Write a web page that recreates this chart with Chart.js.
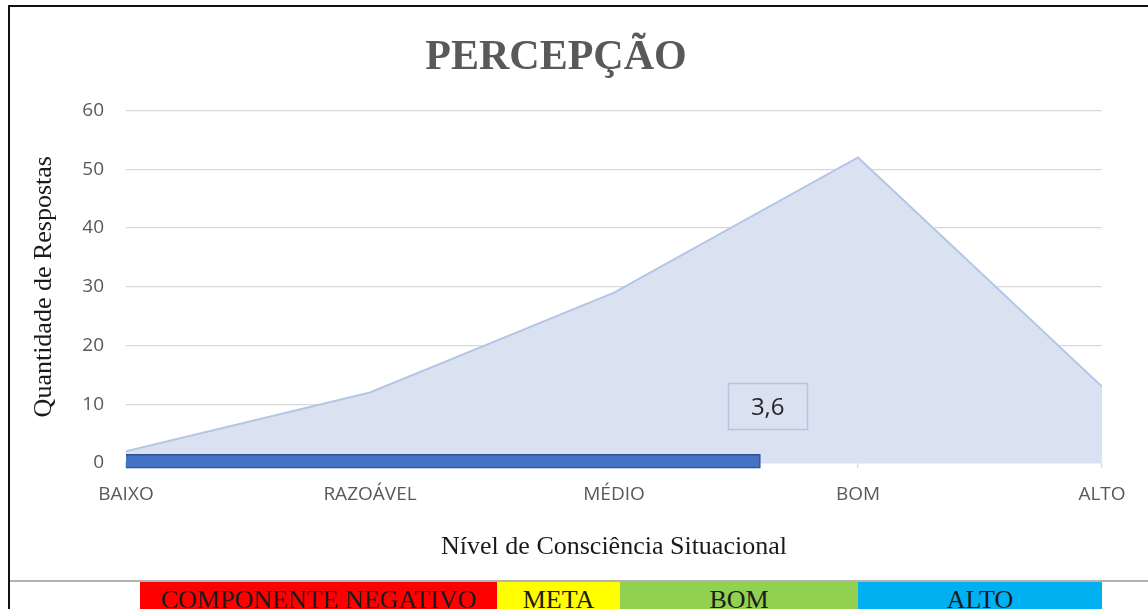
<!DOCTYPE html>
<html>
<head>
<meta charset="utf-8">
<script src="https://cdn.jsdelivr.net/npm/chart.js@4.4.1/dist/chart.umd.min.js"></script>
<style>
  html, body { margin: 0; padding: 0; background: #fff; }
  body { width: 1148px; height: 609px; position: relative; overflow: hidden; }
  #wrap { position: absolute; left: 0; top: 0; width: 1148px; height: 580px; }
  .frameL { position: absolute; left: 8px; top: 5px; width: 2px; height: 604px; background: #111; }
  .frameT { position: absolute; left: 8px; top: 5px; width: 1140px; height: 2px; background: #111; }
  .sep { position: absolute; left: 10px; top: 580px; width: 1138px; height: 2px; background: #b3b3b3; }
  .cell { position: absolute; top: 582px; height: 30px; line-height: 36px; text-align: center; overflow: hidden;
          font-family: "Liberation Serif", "Times New Roman", serif; font-size: 26px; color: #1c1c1c; }
</style>
</head>
<body>
<div id="wrap"><canvas id="c" width="1148" height="580"></canvas></div>
<div class="frameL"></div>
<div class="frameT"></div>
<div class="sep"></div>
<div id="band"></div>
<script>
// ---- data ----
const categories = ["BAIXO", "RAZOÁVEL", "MÉDIO", "BOM", "ALTO"];
const categoryPositions = [1, 2, 3, 4, 5];
const responses = [2, 12, 29, 52, 13];
const indexValue = 3.6;
const indexStart = 1;
const yTicks = [0, 10, 20, 30, 40, 50, 60];
const bandLabels = ["COMPONENTE NEGATIVO", "META", "BOM", "ALTO"];
const bandColors = ["#ff0000", "#ffff00", "#92d050", "#00b0f0"];

// ---- band (legend strip under the chart) ----
const bandEdges = [140, 497, 620, 858, 1102];
const band = document.getElementById('band');
bandLabels.forEach((t, i) => {
  const d = document.createElement('div');
  d.className = 'cell';
  d.style.left = bandEdges[i] + 'px';
  d.style.width = (bandEdges[i + 1] - bandEdges[i]) + 'px';
  d.style.background = bandColors[i];
  d.textContent = t;
  band.appendChild(d);
});

const areaPoints = categoryPositions.map((x, i) => ({ x: x, y: responses[i] }));

const labelBox = {
  id: 'labelBox',
  afterDatasetsDraw(chart) {
    const { ctx, scales } = chart;
    const cx = scales.x.getPixelForValue(indexValue + 0.03);
    const cy = scales.y.getPixelForValue(9.7);
    const w = 79, h = 46;
    ctx.save();
    ctx.strokeStyle = '#b8c4dc';
    ctx.lineWidth = 1.5;
    ctx.strokeRect(Math.round(cx - w / 2) + 0.5, Math.round(cy - h / 2) + 0.5, w, h);
    ctx.fillStyle = '#262626';
    ctx.font = '24px "Open Sans", sans-serif';
    ctx.textAlign = 'center';
    ctx.textBaseline = 'middle';
    ctx.fillText(String(indexValue).replace('.', ','), cx, cy + 2);
    ctx.restore();
  }
};

new Chart(document.getElementById('c'), {
  type: 'line',
  data: {
    datasets: [
      {
        type: 'bar',
        indexAxis: 'y',
        data: [{ x: [indexStart, indexValue], y: 0.3 }],
        backgroundColor: '#4472c4',
        borderColor: '#2f528f',
        borderWidth: 1.5,
        barThickness: 14,
        clip: false,
        order: 1
      },
      {
        type: 'line',
        data: areaPoints,
        fill: 'origin',
        backgroundColor: '#dae2f2',
        borderColor: '#b4c6e6',
        borderWidth: 2,
        pointRadius: 0,
        tension: 0,
        order: 2
      }
    ]
  },
  options: {
    responsive: false,
    animation: false,
    datasets: { bar: { indexAxis: 'y' } },
    layout: { padding: { left: 10, right: 46, top: 0, bottom: 0 } },
    plugins: {
      legend: { display: false },
      tooltip: { enabled: false },
      title: {
        display: true,
        text: 'PERCEPÇÃO',
        color: '#595959',
        font: { family: '"Liberation Serif", "Times New Roman", serif', size: 42, weight: 'bold', lineHeight: 1.2 },
        padding: { top: 33, bottom: 27 }
      }
    },
    scales: {
      x: {
        type: 'linear',
        min: 1,
        max: 5,
        offset: false,
        afterBuildTicks(scale) { scale.ticks = categoryPositions.map(v => ({ value: v })); },
        afterFit(scale) { scale.height = 117; },
        grid: { display: true, drawOnChartArea: false, drawTicks: true, tickLength: 5, color: '#d9d9d9', offset: false, lineWidth: 1.3 },
        border: { display: true, color: '#d9d9d9', width: 1.3 },
        ticks: {
          padding: 15,
          maxRotation: 0,
          autoSkip: false,
          color: '#595959',
          font: { family: '"Open Sans", sans-serif', size: 19 },
          callback: (v) => { const i = categoryPositions.indexOf(v); return i >= 0 ? categories[i] : ''; }
        },
        title: {
          display: true,
          text: 'Nível de Consciência Situacional',
          color: '#1a1a1a',
          font: { family: '"Liberation Serif", "Times New Roman", serif', size: 26, lineHeight: 1.2 },
          padding: { top: 0, bottom: 17 }
        }
      },
      y: {
        type: 'linear',
        min: 0,
        max: 60,
        offset: false,
        afterBuildTicks(scale) { scale.ticks = yTicks.map(v => ({ value: v })); },
        afterFit(scale) { scale.width = 116; },
        grid: { color: '#d9d9d9', lineWidth: 1.3, drawTicks: false, offset: false },
        border: { display: false },
        ticks: {
          padding: 22,
          color: '#595959',
          font: { family: '"Open Sans", sans-serif', size: 19 }
        },
        title: {
          display: true,
          text: 'Quantidade de Respostas',
          color: '#1a1a1a',
          font: { family: '"Liberation Serif", "Times New Roman", serif', size: 26, lineHeight: 1.2 },
          padding: { top: 19, bottom: 0 }
        }
      }
    }
  },
  plugins: [labelBox]
});
</script>
</body>
</html>
